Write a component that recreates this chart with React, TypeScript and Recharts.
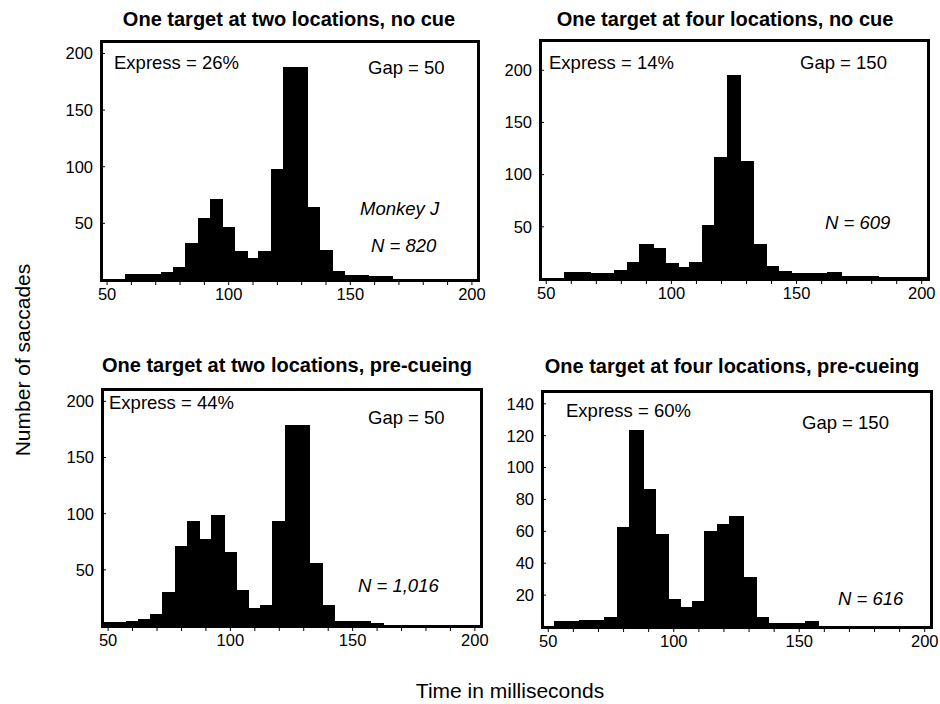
import React from "react";
import { BarChart, Bar, XAxis, YAxis } from "recharts";

// 5 ms bins, labelled by their centre
const bins = [
  50, 55, 60, 65, 70, 75, 80, 85, 90, 95, 100, 105, 110, 115, 120, 125, 130,
  135, 140, 145, 150, 155, 160, 165, 170, 175, 180, 185, 190, 195, 200,
];

const twoNoCue = [
  0, 0, 5, 5, 5, 6, 11, 32, 54, 71, 46, 25, 19, 25, 97, 187, 187, 64, 26, 7,
  4, 4, 3, 3, 0, 0, 0, 0, 0, 0, 0,
];
const fourNoCue = [
  0, 0, 6, 6, 5, 5, 8, 16, 33, 29, 15, 11, 16, 51, 116, 195, 112, 33, 12, 7,
  5, 5, 5, 6, 2, 2, 2, 1, 1, 1, 1,
];
const twoPreCue = [
  3, 3, 4, 6, 10, 30, 71, 93, 77, 98, 65, 31, 15, 18, 93, 178, 178, 55, 18, 4,
  4, 4, 2, 0, 0, 0, 0, 0, 0, 0, 0,
];
const fourPreCue = [
  0, 3, 3, 4, 4, 6, 62, 123, 86, 58, 17, 12, 16, 60, 64, 69, 31, 6, 2, 2, 2, 3,
  0, 0, 0, 0, 0, 0, 0, 0, 0,
];

const ticks200 = [50, 100, 150, 200];
const ticks140 = [20, 40, 60, 80, 100, 120, 140];

const FONT = "'Liberation Sans', Arial, Helvetica, sans-serif";
const YW = 60;
const XH = 35;
const PAD = 6;
const RPAD = 24;

type Box = { l: number; t: number; r: number; b: number };

function Panel({
  values,
  yMax,
  yTicks,
  box,
}: {
  values: number[];
  yMax: number;
  yTicks: number[];
  box: Box;
}) {
  const data = bins.map((t, i) => ({ t, v: values[i] }));
  const w = box.r - box.l + YW + RPAD;
  const h = box.b - box.t + PAD + XH;
  return (
    <div style={{ position: "absolute", left: box.l - YW, top: box.t - PAD }}>
      <BarChart
        width={w}
        height={h}
        data={data}
        margin={{ top: PAD, right: RPAD, left: 0, bottom: 0 }}
        barCategoryGap={0}
        barGap={0}
      >
        <XAxis
          dataKey="t"
          type="category"
          interval={1}
          height={XH}
          tickSize={5}
          tickMargin={3}
          axisLine={false}
          tickLine={{ stroke: "#000" }}
          tick={{ fill: "#000", fontSize: 16.5, fontFamily: FONT }}
          tickFormatter={(v) => (Number(v) % 50 === 0 ? String(v) : "")}
        />
        <YAxis
          type="number"
          domain={[0, yMax]}
          ticks={yTicks}
          interval={0}
          width={YW}
          tickSize={-4}
          tickMargin={12}
          axisLine={false}
          tickLine={{ stroke: "#000" }}
          tick={{ fill: "#000", fontSize: 16.5, fontFamily: FONT }}
        />
        <Bar
          dataKey="v"
          fill="#000"
          stroke="#000"
          strokeWidth={1.5}
          shapeRendering="crispEdges"
          isAnimationActive={false}
        />
      </BarChart>
      {/* frame around the plot area */}
      <div
        style={{
          position: "absolute",
          left: YW - 1.5,
          top: PAD - 1.5,
          width: box.r - box.l - 3,
          height: box.b - box.t - 3,
          border: "3px solid #000",
          pointerEvents: "none",
        }}
      />
    </div>
  );
}

export default function App() {
  const note = { fontFamily: FONT, fontSize: 18.5, fill: "#000" } as const;
  const title = { fontFamily: FONT, fontSize: 20, fontWeight: 700, fill: "#000" } as const;
  return (
    <div
      style={{
        position: "absolute",
        left: 0,
        top: 0,
        width: 940,
        height: 704,
        background: "#fff",
        overflow: "hidden",
      }}
    >
      <Panel values={twoNoCue} yMax={211} yTicks={ticks200} box={{ l: 101, t: 41, r: 478, b: 280 }} />
      <Panel values={fourNoCue} yMax={229} yTicks={ticks200} box={{ l: 540, t: 40, r: 928, b: 279 }} />
      <Panel values={twoPreCue} yMax={211} yTicks={ticks200} box={{ l: 102, t: 389, r: 481, b: 626 }} />
      <Panel values={fourPreCue} yMax={148} yTicks={ticks140} box={{ l: 542, t: 391, r: 931, b: 627 }} />

      <svg
        width={940}
        height={704}
        style={{ position: "absolute", left: 0, top: 0, pointerEvents: "none" }}
      >
        <g dominantBaseline="central">
          <text x={289} y={19} textAnchor="middle" {...title}>
            One target at two locations, no cue
          </text>
          <text x={725} y={19} textAnchor="middle" {...title}>
            One target at four locations, no cue
          </text>
          <text x={287} y={365} textAnchor="middle" {...title}>
            One target at two locations, pre-cueing
          </text>
          <text x={732} y={366} textAnchor="middle" {...title}>
            One target at four locations, pre-cueing
          </text>

          <text x={114} y={62} {...note}>Express = 26%</text>
          <text x={368} y={67} {...note}>Gap = 50</text>
          <text x={360} y={208} {...note} fontStyle="italic">Monkey J</text>
          <text x={371} y={245} {...note} fontStyle="italic">N = 820</text>

          <text x={549} y={62} {...note}>Express = 14%</text>
          <text x={800} y={62} {...note}>Gap = 150</text>
          <text x={825} y={222} {...note} fontStyle="italic">N = 609</text>

          <text x={109} y={402} {...note}>Express = 44%</text>
          <text x={368} y={417} {...note}>Gap = 50</text>
          <text x={358} y={585} {...note} fontStyle="italic">N = 1,016</text>

          <text x={566} y={410} {...note}>Express = 60%</text>
          <text x={802} y={422} {...note}>Gap = 150</text>
          <text x={838} y={598} {...note} fontStyle="italic">N = 616</text>

          <text
            x={22}
            y={360}
            textAnchor="middle"
            transform="rotate(-90 22 360)"
            fontFamily={FONT}
            fontSize={21}
            fill="#000"
          >
            Number of saccades
          </text>
          <text x={510} y={690} textAnchor="middle" fontFamily={FONT} fontSize={21} fill="#000">
            Time in milliseconds
          </text>
        </g>
      </svg>
    </div>
  );
}
